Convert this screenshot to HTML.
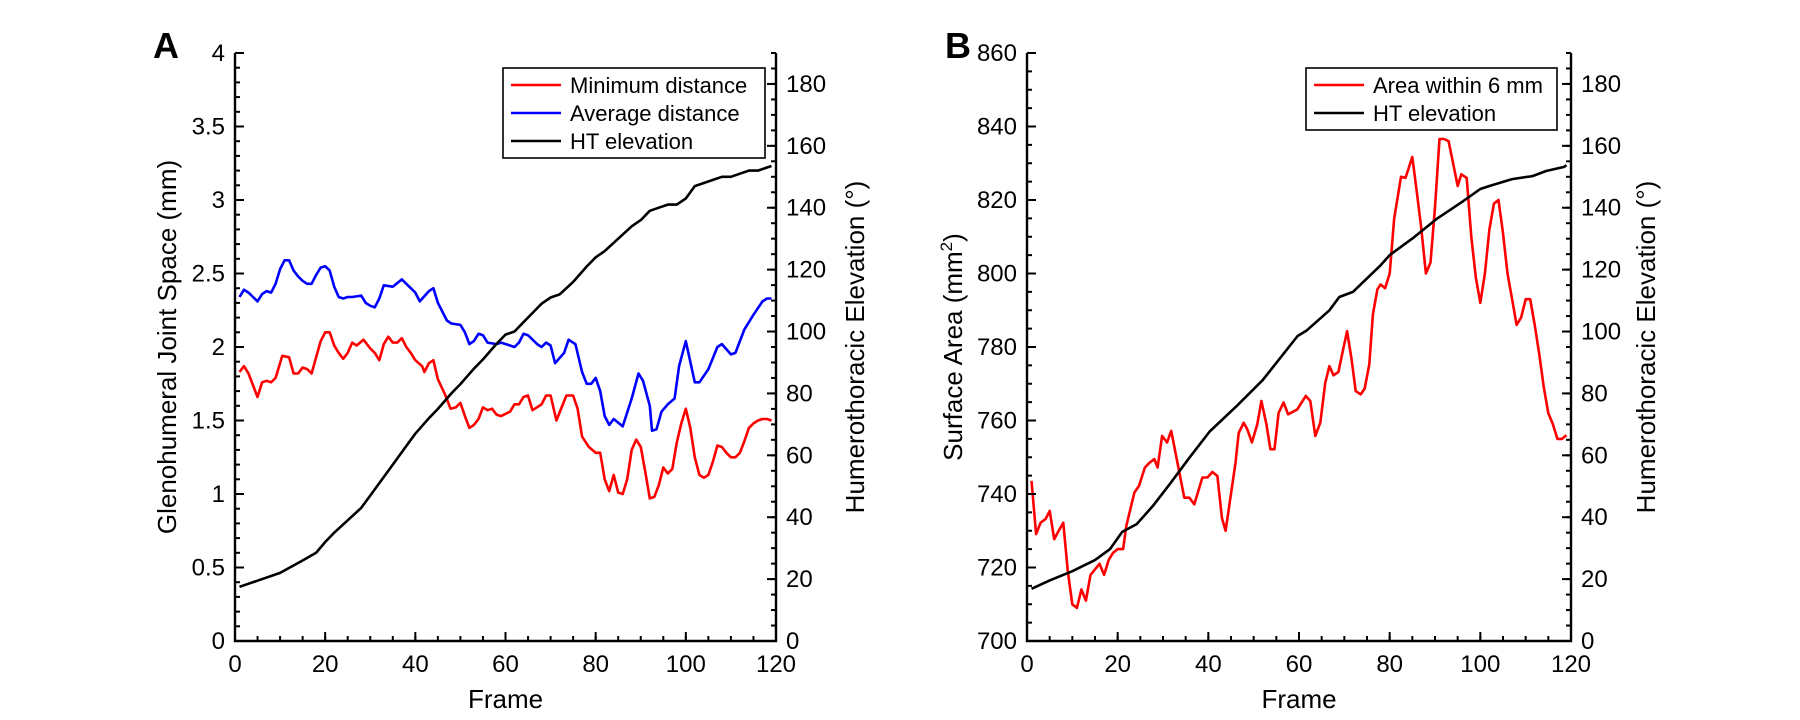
<!DOCTYPE html>
<html><head><meta charset="utf-8">
<style>
html,body{margin:0;padding:0;background:#fff;}
svg{display:block;font-family:"Liberation Sans",Arial,sans-serif;}
</style></head>
<body>
<svg id="fig" width="1800" height="720" viewBox="0 0 1800 720" xmlns="http://www.w3.org/2000/svg"></svg>
<script>
// ---- Panel A data ----
const aMinFrames=[1,2,3,4,5,6,7,8,9,10.5,12,13,14,15,16,17,18,19,20,21,22,23,24,25,26,27,28.5,30,31,32,33,34,35,36,37,38,39,40,41.5,42,43,44,45,46.7,47.8,49,50,51,52,53,54,55,56,57,58,59,61,62,63,64,65,66,68,69,70,71.3,73.5,75,76,77,78.5,80,81,82,83,84,85,86,87,88,89,90,91,92,93,94,95,96,97,98,99,100,101,102,103,104,105,106,107,108,109,110,111,112,113,114,115,116,117,118,119];
const aMinVals=[1.83,1.87,1.82,1.74,1.66,1.76,1.77,1.76,1.79,1.94,1.93,1.82,1.82,1.86,1.85,1.82,1.93,2.04,2.10,2.10,2.01,1.96,1.92,1.96,2.03,2.01,2.05,1.99,1.96,1.91,2.02,2.07,2.03,2.03,2.06,2.00,1.96,1.91,1.87,1.83,1.89,1.91,1.78,1.67,1.58,1.59,1.62,1.53,1.45,1.47,1.51,1.59,1.57,1.58,1.54,1.53,1.56,1.61,1.61,1.66,1.67,1.57,1.61,1.67,1.67,1.50,1.67,1.67,1.58,1.39,1.32,1.28,1.28,1.10,1.02,1.13,1.01,1.00,1.10,1.30,1.37,1.32,1.15,0.97,0.98,1.06,1.18,1.14,1.17,1.35,1.48,1.58,1.45,1.25,1.13,1.11,1.13,1.22,1.33,1.32,1.28,1.25,1.25,1.28,1.36,1.45,1.48,1.50,1.51,1.51,1.50];
const aAvgFrames=[1,2,3,4,5,6,7,8,9,10,11,12,13,14,15,16,17,18,19,20,21,22,23,24,25,26,28,29,30,31,32,33,35,37,38,40,41,43,44,45,47,48,50,51,52,53,54,55,56,58,59,61,62,63,64,65,67,68,69,70,71,73,74,75.5,77,78,79,80,81,82,83,84,86,88,89.5,90.5,92,92.5,93.5,94.6,96,97.5,98.5,100,102,103,105,107,108,110,111,113,115,117,118,119];
const aAvgVals=[2.34,2.39,2.37,2.34,2.31,2.36,2.38,2.37,2.43,2.53,2.59,2.59,2.52,2.48,2.45,2.43,2.43,2.49,2.54,2.55,2.52,2.41,2.34,2.33,2.34,2.34,2.35,2.30,2.28,2.27,2.33,2.42,2.41,2.46,2.43,2.37,2.31,2.38,2.40,2.30,2.18,2.16,2.15,2.10,2.02,2.04,2.09,2.08,2.03,2.02,2.03,2.01,2.00,2.03,2.09,2.08,2.02,2.00,2.03,2.01,1.89,1.96,2.05,2.02,1.83,1.75,1.75,1.79,1.70,1.53,1.47,1.51,1.46,1.65,1.82,1.77,1.60,1.43,1.44,1.56,1.61,1.65,1.87,2.04,1.76,1.76,1.85,2.00,2.02,1.95,1.96,2.12,2.22,2.31,2.33,2.33];
const aHtFrames=[1,5,10,15,18,20,22,25,28,30,33,35,38,40,43,45,48,50,53,55,58,60,62,64,66,68,70,72,75,78,80,82,85,88,90,92,94,96,98,100,102,104,106,108,110,112,114,116,118,119];
const aHtVals=[17.5,19.5,22,26,28.5,32,35,39,43,47,53,57,63,67,72,75,80,83,88,91,96,99,100,103,106,109,111,112,116,121,124,126,130,134,136,139,140,141,141,143,147,148,149,150,150,151,152,152,153,153.5];
// ---- Panel B data ----
const bAreaFrames=[1,2,3,4.1,5,6,7,8,9,10,11,12,13,14,16,17,18,19,20,21.2,21.9,23.7,24.7,26,27,28.1,28.8,29.8,30.9,31.8,32.9,34.7,35.8,36.9,38.7,39.8,40.9,42,43,43.8,46,46.7,47.8,48.6,49.6,50.8,51.7,52.8,53.7,54.6,55.5,56.6,57.6,59.6,61.5,62.5,63.6,64.7,65.8,66.7,67.6,68.7,69.5,70.6,71.6,72.5,73.6,74.5,75.5,76.3,77.3,78,79,80,81,82.5,83.5,85,86,87,88,89,90,91,92,93,94,95,95.8,97,98,99,100,101,102,103,104,105,106,107,108,109,110,111,112,113,114,115,116,117,118,119];
const bAreaVals=[743.6,729.1,732.2,733.2,735.4,727.7,730,732.2,719,710,709,714,711,718,721,718,722,724,725,725,731.3,740.4,742.2,747.2,748.5,749.5,747.2,755.8,754,757.2,750.4,739,739,737.2,744.5,744.5,746,744.9,733.5,730,748.5,756.6,759.4,757.6,754,759,765.3,759,752.2,752.2,762.1,764.9,761.7,763,766.7,765.3,755.8,759.4,770.3,774.8,772.3,773.2,778,784.3,776.6,768,767.1,768.7,775.3,788.9,795.7,797,796,800,815,826.3,826,831.7,822,812,800,803,818,836.6,836.6,836,830,823.8,827,826,810,799,792,800,812,819,820,811,800,793,786,788,793,793,786,778,769,762,759,755,755,756];
const bHtFrames=[1,5,10,15,18.3,21,24.2,27.8,31.5,35.9,40.3,46.3,52,59.7,61.6,66.7,68.9,71.9,77.8,80,85,90.3,96,100,102,107,111.5,114.5,118.5,119];
const bHtVals=[714.2,716.5,719,722,725,729.7,731.8,736.8,742.7,750,757,764,771,783,784.4,790,793.6,795,802,805,809.5,814.8,819.5,823,823.8,825.7,826.5,827.9,829,829.5];
// ticks
const aLeftTicks=[0,0.5,1,1.5,2,2.5,3,3.5,4];
const aLeftLabels=["0","0.5","1","1.5","2","2.5","3","3.5","4"];
const rightTicks=[0,20,40,60,80,100,120,140,160,180];
const xTicks=[0,20,40,60,80,100,120];
const bLeftTicks=[700,720,740,760,780,800,820,840,860];

const NS="http://www.w3.org/2000/svg";
const svg=document.getElementById('fig');
function mk(tag,attrs,parent){const e=document.createElementNS(NS,tag);for(const k in attrs)e.setAttribute(k,attrs[k]);(parent||svg).appendChild(e);return e;}
const TOP=53,BOT=641;
function panel(L,R,ymin,ymax,rmin,rmax){
  return {L,R,
    x:f=>L+(f/120)*(R-L),
    y:v=>BOT-(v-ymin)/(ymax-ymin)*(BOT-TOP),
    yr:v=>BOT-(v-rmin)/(rmax-rmin)*(BOT-TOP)};
}
const A=panel(235,776,0,4,0,190);
const B=panel(1027,1571,700,860,0,190);

function axes(P,g,leftTicks,leftLabels,leftMinorStep,lmin,lmax){
  // spines
  mk('line',{x1:P.L,y1:TOP,x2:P.L,y2:BOT+1,stroke:'#000','stroke-width':2.4},g);
  mk('line',{x1:P.R,y1:TOP,x2:P.R,y2:BOT+1,stroke:'#000','stroke-width':2.4},g);
  mk('line',{x1:P.L-1,y1:BOT,x2:P.R+1,y2:BOT,stroke:'#000','stroke-width':2.4},g);
  // left minor
  for(let v=lmin;v<=lmax+1e-9;v+=leftMinorStep){const y=P.y(v);mk('line',{x1:P.L,y1:y,x2:P.L+5,y2:y,stroke:'#000','stroke-width':2},g);}
  leftTicks.forEach((v,i)=>{const y=P.y(v);
    mk('line',{x1:P.L,y1:y,x2:P.L+9,y2:y,stroke:'#000','stroke-width':2},g);
    const t=mk('text',{x:P.L-10,y:y+8,'font-size':24,'text-anchor':'end',fill:'#000'},g);t.textContent=leftLabels[i];
    });
  for(let v=0;v<=190;v+=5){const y=P.yr(v);mk('line',{x1:P.R,y1:y,x2:P.R-5,y2:y,stroke:'#000','stroke-width':2},g);}
  rightTicks.forEach(v=>{const y=P.yr(v);
    mk('line',{x1:P.R,y1:y,x2:P.R-9,y2:y,stroke:'#000','stroke-width':2},g);
    const t=mk('text',{x:P.R+10,y:y+8,'font-size':24,fill:'#000'},g);t.textContent=String(v);
    });
  for(let f=0;f<=120;f+=5){const x=P.x(f);mk('line',{x1:x,y1:BOT,x2:x,y2:BOT-5,stroke:'#000','stroke-width':2},g);}
  xTicks.forEach(f=>{const x=P.x(f);
    mk('line',{x1:x,y1:BOT,x2:x,y2:BOT-9,stroke:'#000','stroke-width':2},g);
    const t=mk('text',{x:x,y:672,'font-size':24,'text-anchor':'middle',fill:'#000'},g);t.textContent=String(f);
    });
  const xt=mk('text',{x:(P.L+P.R)/2,y:708,'font-size':26,'text-anchor':'middle',fill:'#000'},g);xt.textContent='Frame';
  
}
function line(fr,vals,sx,sy,color,g,name){
  const d=fr.map((f,i)=>(i?'L':'M')+sx(f).toFixed(1)+','+sy(vals[i]).toFixed(1)).join('');
  const p=mk('path',{d:d,fill:'none',stroke:color,'stroke-width':2.6,'stroke-linejoin':'round'},g);
  
}
function legend(g,x,y,w,entries){
  const h=entries.length*28+6;
  const r=mk('rect',{x:x,y:y,width:w,height:h,fill:'#fff',stroke:'#000','stroke-width':1.6},g);
  
  entries.forEach((e,i)=>{const cy=y+17+i*28;
    mk('line',{x1:x+8,y1:cy,x2:x+58,y2:cy,stroke:e[1],'stroke-width':2.4},g);
    const t=mk('text',{x:x+67,y:cy+8,'font-size':22,fill:'#000'},g);t.textContent=e[0];
    });
}
function rotText(g,x,y,str,name){
  const t=mk('text',{x:0,y:0,'font-size':26,'text-anchor':'middle',fill:'#000',transform:`translate(${x},${y}) rotate(-90)`},g);
  t.innerHTML=str;return t;
}

// Panel A
const gA=mk('g',{});
line(aMinFrames,aMinVals,A.x,A.y,'#ff0000',gA,'minimum-distance-line');
line(aAvgFrames,aAvgVals,A.x,A.y,'#0000ff',gA,'average-distance-line');
line(aHtFrames,aHtVals,A.x,A.yr,'#000000',gA,'ht-elevation-line-a');
axes(A,gA,aLeftTicks,aLeftLabels,0.1,0,4);
legend(gA,503,68,262,[['Minimum distance','#ff0000'],['Average distance','#0000ff'],['HT elevation','#000']]);
rotText(gA,176,347,'Glenohumeral Joint Space (mm)','left-axis-title-a');
rotText(gA,864,347,'Humerothoracic Elevation (°)','right-axis-title-a');
const la=mk('text',{x:153,y:58,'font-size':36,'font-weight':'bold',fill:'#000'},gA);la.textContent='A';


// Panel B
const gB=mk('g',{});
line(bAreaFrames,bAreaVals,B.x,B.y,'#ff0000',gB,'area-within-6mm-line');
line(bHtFrames,bHtVals,B.x,B.y,'#000000',gB,'ht-elevation-line-b');
axes(B,gB,bLeftTicks,bLeftTicks.map(String),5,700,860);
legend(gB,1306,68,251,[['Area within 6 mm','#ff0000'],['HT elevation','#000']]);
rotText(gB,962,347,'Surface Area (mm<tspan dy="-10" font-size="17">2</tspan><tspan dy="10">)</tspan>','left-axis-title-b');
rotText(gB,1655,347,'Humerothoracic Elevation (°)','right-axis-title-b');
const lb=mk('text',{x:945,y:58,'font-size':36,'font-weight':'bold',fill:'#000'},gB);lb.textContent='B';

</script>
</body></html>
